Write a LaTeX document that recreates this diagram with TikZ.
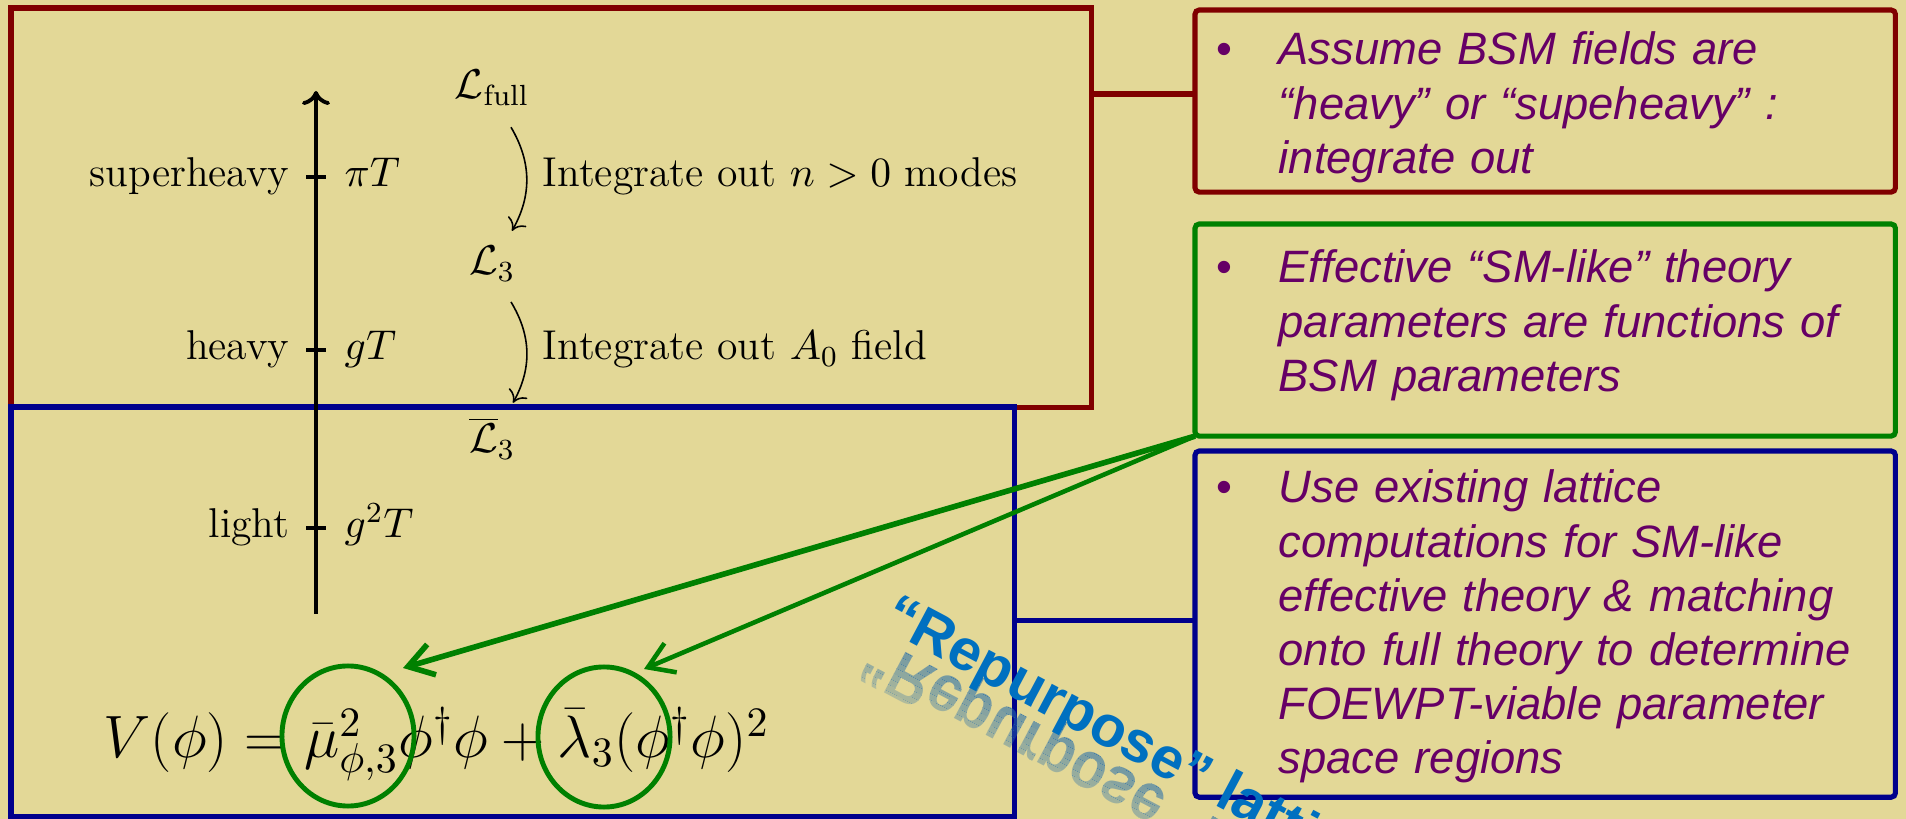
\RequirePackage{fix-cm}
\documentclass[tikz,border=0pt]{standalone}
\usepackage{fontspec}
\usetikzlibrary{arrows.meta,shapes.geometric}
\newfontfamily\notefont{Liberation Sans}

\definecolor{slidebg}{RGB}{227,216,151}
\definecolor{boxred}{RGB}{128,0,0}
\definecolor{boxblue}{RGB}{0,0,140}
\definecolor{boxgreen}{RGB}{0,128,0}
\definecolor{notepurple}{RGB}{102,0,102}
\definecolor{artblue}{RGB}{0,112,192}
\definecolor{artshadow}{RGB}{40,110,170}

\newcommand{\captiontext}{“Repurpose” lattice}

\tikzset{
  panel/.style={draw, line width=1.45pt, inner sep=0pt, outer sep=0pt, anchor=north west},
  note/.style={panel, rounded corners=1.2pt},
  link/.style={line width=1.45pt},
  axisline/.style={line width=1.1pt, black},
  lbl/.style={inner sep=0pt, font=\fontsize{11.85}{14}\selectfont},
  flow/.style={line width=0.45pt, -{Computer Modern Rightarrow[length=3.2pt,width=6pt]}},
  notetext/.style={inner sep=0pt, anchor=base west, text=notepurple, text width=6.2cm, align=left,
    font=\notefont\itshape\fontsize{12.9}{15.4}\selectfont},
  bulletmark/.style={inner sep=0pt, anchor=base west, text=notepurple,
    font=\notefont\fontsize{12.9}{15.4}\selectfont},
  pick/.style={draw=boxgreen, line width=1.4pt, ellipse, inner sep=0pt,
    minimum width=1.32cm, minimum height=1.4cm},
  pointer/.style={draw=boxgreen, -{Straight Barb[length=7pt,width=9pt]}},
  artword/.style={inner sep=0pt, anchor=base west, text=artblue,
    font=\notefont\bfseries\fontsize{16.5}{19}\selectfont},
}

\begin{document}
\begin{tikzpicture}[x=0.01cm, y=-0.01cm]
\useasboundingbox (0,0) rectangle (1906,819);
\clip (0,0) rectangle (1906,819);
\fill[slidebg] (0,0) rectangle (1906,819);

% left panels: full theory (red) and light sector (blue)
\node[panel, draw=boxred, minimum width=10.80cm, minimum height=3.99cm] (fullpanel) at (11,8) {};
\node[panel, draw=boxblue, minimum width=10.03cm, minimum height=4.09cm] (lightpanel) at (11,407) {};

% scale axis
\coordinate (axbot) at (316,614);
\coordinate (axtop) at (316,91);
\draw[axisline, -{Computer Modern Rightarrow[length=4pt,width=8pt]}] (axbot) -- (axtop);
\draw[axisline] (306,177) -- (326,177);
\draw[axisline] (306,350) -- (326,350);
\draw[axisline] (306,528) -- (326,528);

\node[lbl, anchor=base east] (sh) at (290,187) {superheavy};
\node[lbl, anchor=base east] (hv) at (290,360) {heavy};
\node[lbl, anchor=base east] (lt) at (290,538) {light};
\node[lbl, anchor=base west] (piT) at (344,187) {$\pi T$};
\node[lbl, anchor=base west] (gT) at (344,360) {$gT$};
\node[lbl, anchor=base west] (ggT) at (344,538) {$g^2T$};

% tower of effective theories
\node[lbl, anchor=base] (Lfull) at (492,99) {$\mathcal{L}_{\mathrm{full}}$};
\node[lbl, anchor=base] (L3) at (492,275) {$\mathcal{L}_3$};
\node[lbl, anchor=base] (Lbar) at (492,453) {$\overline{\mathcal{L}}_3$};
\draw[flow] ([shift={(19,21)}]Lfull.south) to[bend left=30] ([shift={(20,-15)}]L3.north);
\draw[flow] ([shift={(19,20)}]L3.south) to[bend left=30] ([shift={(21,-14)}]Lbar.north);
\node[lbl, anchor=base west] (step1) at (542,187) {Integrate out $n>0$ modes};
\node[lbl, anchor=base west] (step2) at (542,360) {Integrate out $A_0$ field};

% effective potential
\node[inner sep=0pt, anchor=base west, font=\fontsize{17}{20}\selectfont] (potential) at (103,758)
  {$V(\phi)=\bar{\mu}^2_{\phi,3}\phi^\dagger\phi+\bar{\lambda}_3(\phi^\dagger\phi)^2$};

% right-hand notes
\node[note, draw=boxred, minimum width=7.00cm, minimum height=1.82cm] (noteheavy) at (1195,10) {};
\node[note, draw=boxgreen, minimum width=7.00cm, minimum height=2.12cm] (noteeft) at (1195,224) {};
\node[note, draw=boxblue, minimum width=7.00cm, minimum height=3.46cm] (notelattice) at (1195,451) {};

\node[bulletmark] (b1) at (1216,65) {•};
\node[notetext] (t1) at (1278,65) {Assume BSM fields are\\“heavy” or “supeheavy” :\\integrate out};
\node[bulletmark] (b2) at (1216,283) {•};
\node[notetext] (t2) at (1278,283) {Effective “SM-like” theory\\parameters are functions of\\BSM parameters};
\node[bulletmark] (b3) at (1216,503) {•};
\node[notetext] (t3) at (1278,503) {Use existing lattice\\computations for SM-like\\effective theory \& matching\\onto full theory to determine\\FOEWPT-viable parameter\\space regions};

% connectors from panels to notes
\draw[link, boxred] ([yshift=0.07cm]noteheavy.west) -- ([yshift=0.07cm]noteheavy.west -| fullpanel.east);
\draw[link, boxblue] ([yshift=0.04cm]notelattice.west) -- ([yshift=0.04cm]notelattice.west -| lightpanel.east);

% highlighted parameters
\node[pick] (pickmu) at (348,736) {};
\node[pick] (picklam) at (604,737) {};
\coordinate (tipmu) at (403,668);
\coordinate (tiplam) at (644,669);
\draw[pointer, line width=1.6pt] (noteeft.south west) -- (tipmu);
\draw[pointer, line width=1.3pt] (noteeft.south west) -- (tiplam);

% slanted caption; its mirror image fades out in thin bands away from the baseline
\foreach \k in {0,...,11} {
  \pgfmathsetmacro\bandop{0.72-0.045*\k}
  \begin{scope}
    \clip[shift={(876,637)}, rotate=-28] (-80,{-18+6*\k}) rectangle (700,{-12+6*\k});
    \node[artword, text=artshadow, opacity=\bandop, rotate=-28, yscale=-1.15] (captionflip\k) at (876,637) {\captiontext};
  \end{scope}
}
\node[artword, rotate=-28] (caption) at (880,627) {\captiontext};
\end{tikzpicture}
\end{document}
